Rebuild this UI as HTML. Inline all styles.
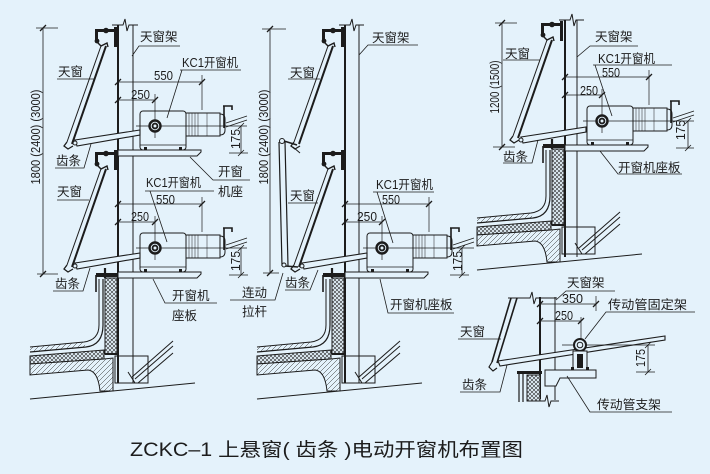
<!DOCTYPE html>
<html><head><meta charset="utf-8">
<style>
html,body{margin:0;padding:0;background:#e4f2fb;width:710px;height:474px;overflow:hidden}
svg{display:block}
text{font-family:"Liberation Sans","Noto Sans CJK SC",sans-serif;fill:#1c1c1c;font-size:12.5px;stroke:none}
.n{font-size:13px}
.t{font-size:19px}
</style></head><body>
<svg width="710" height="474" viewBox="0 0 710 474" xmlns="http://www.w3.org/2000/svg">
<defs>
 <pattern id="xh" width="4" height="4" patternUnits="userSpaceOnUse"><rect width="4" height="4" fill="#e4f2fb"/><path d="M0,0L4,4M4,0L0,4" stroke="#2a2a2a" stroke-width="0.6"/></pattern>
 <pattern id="dh" width="5" height="5" patternUnits="userSpaceOnUse"><rect width="5" height="5" fill="#e4f2fb"/><path d="M-1,6L6,-1" stroke="#2a2a2a" stroke-width="0.5"/></pattern>

 <g id="motor" stroke="#1c1c1c" fill="none" stroke-width="1">
  <path d="M0,0H83V2L79,6H0Z" fill="#e4f2fb"/>
  <rect x="22" y="-39" width="46" height="39" rx="3" fill="#e4f2fb"/>
  <line x1="22" y1="-5" x2="68" y2="-5" stroke-width="0.7"/>
  <rect x="26" y="-3" width="3" height="3" fill="#1c1c1c" stroke="none"/>
  <rect x="61" y="-3" width="3" height="3" fill="#1c1c1c" stroke="none"/>
  <rect x="68" y="-37" width="34" height="23" fill="#e4f2fb"/>
  <path d="M71,-37V-14M74,-37V-14M77,-37V-14M80,-37V-14M89,-37V-14" stroke-width="0.5"/>
  <path d="M102,-36Q107,-36 107,-31V-20Q107,-15 102,-15"/>
  <path d="M106,-44V-22M105,-44H114V-40" stroke-width="1.6"/>
  <path d="M108,-27L129,-34M108,-23L129,-30" stroke-width="0.8"/>
  <line x1="18" y1="-24" x2="129" y2="-24" stroke-width="0.7"/>
  <line x1="37" y1="-56" x2="37" y2="-12" stroke-width="0.7"/>
  <circle cx="37" cy="-24" r="6.2" fill="#1c1c1c"/>
  <circle cx="37" cy="-24" r="3.8" stroke="#e4f2fb" stroke-width="0.9"/>
  <circle cx="37" cy="-24" r="1.5" fill="#e4f2fb" stroke="none"/>
  <line x1="0" y1="-68" x2="84" y2="-68" stroke-width="0.7"/>
  <line x1="84" y1="-75" x2="84" y2="-40" stroke-width="0.7"/>
  <line x1="0" y1="-50" x2="37" y2="-50" stroke-width="0.7"/>
  <path d="M-3,-65L3,-71M81,-65L87,-71M-3,-47L3,-53M34,-47L40,-53" stroke-width="1.3"/>
 </g>

 <g id="sash" stroke="#1c1c1c" fill="none">
  <rect x="114" y="27" width="3" height="20" fill="#1c1c1c" stroke="none"/>
  <rect x="95" y="29" width="20" height="3" fill="#1c1c1c" stroke="none"/>
  <circle cx="106" cy="30.5" r="2.8" fill="#1c1c1c" stroke="none"/>
  <rect x="95" y="29" width="3" height="12" fill="#1c1c1c" stroke="none"/>
  <circle cx="97" cy="41" r="2.4" fill="#1c1c1c" stroke="none"/>
  <path d="M97,42L101,46L107,43L108,47" stroke-width="1.4"/>
  <line x1="106" y1="46" x2="72" y2="144" stroke-width="2"/>
  <line x1="101" y1="46" x2="67" y2="142" stroke-width="1"/>
  <path d="M67,142L64,146L68,149L73,146" stroke-width="1.3"/>
 </g>

 <g id="rack" stroke="#1c1c1c">
  <path d="M75,140L140,130V135L77,146Z" fill="#e4f2fb" stroke-width="1.1"/>
  <circle cx="75" cy="143" r="2" fill="#e4f2fb"/>
 </g>

 <g id="curb" stroke="#1c1c1c" fill="none">
  <path d="M30,347L84,342L86,347L30,352Z" fill="url(#dh)" stroke="none"/>
  <path d="M30,347L84,342Q99,340 99,325V279" stroke-width="1"/>
  <path d="M30,352L86,347Q103,345 103,325V279" stroke-width="1.2"/>
  <path d="M30,356L104,350V359L30,364Z" fill="url(#xh)"/>
  <path d="M30,364L104,359L113,358V391L100,391Q98,371 88,370L30,375Z" fill="url(#dh)"/>
  <rect x="105" y="278" width="12" height="76" fill="url(#xh)"/>
  <rect x="96" y="273" width="22" height="4" fill="#1c1c1c" stroke="none"/>
  <path d="M105,268V278" stroke-width="2.2"/>
  <path d="M96,275V292" stroke-width="1.6"/>
  <path d="M105,354H117" stroke-width="2"/>
  <rect x="115" y="356" width="33" height="27"/>
  <line x1="30" y1="399" x2="195" y2="383"/>
  <path d="M132,377L173,341M135,379L173,346M138,383L173,353" stroke-width="1"/>
  <path d="M128,372L135,383"/>
 </g>
</defs>

<rect width="710" height="474" fill="#e4f2fb"/>

<g stroke="#1c1c1c" fill="none" stroke-width="1">
 <use href="#curb"/>
 <use href="#curb" transform="translate(227,0)"/>
 <use href="#curb" transform="translate(447,-129)"/>

 <line x1="118" y1="25" x2="118" y2="383" stroke-width="2"/>
 <line x1="133" y1="25" x2="133" y2="383"/>
 <polyline points="112,25 123,25 125,19 127,31 129,25 138,25"/>

 <line x1="345" y1="25" x2="345" y2="383" stroke-width="2"/>
 <line x1="359" y1="25" x2="359" y2="383"/>
 <polyline points="339,25 350,25 352,19 354,31 356,25 364,25"/>

 <line x1="565" y1="20" x2="565" y2="257" stroke-width="2"/>
 <line x1="577" y1="20" x2="577" y2="257"/>
 <polyline points="559,20 570,20 572,14 574,26 576,20 584,20"/>

 <use href="#motor" transform="translate(118,150)"/>
 <use href="#motor" transform="translate(118,272)"/>
 <use href="#motor" transform="translate(345,272)"/>
 <use href="#motor" transform="translate(565,145)"/>

 <use href="#rack"/>
 <use href="#rack" transform="translate(0,123)"/>
 <use href="#rack" transform="translate(227,123)"/>
 <use href="#rack" transform="translate(446,-3)"/>

 <use href="#sash"/>
 <use href="#sash" transform="translate(0,123)"/>
 <use href="#sash" transform="translate(227,0)"/>
 <use href="#sash" transform="translate(227,123)"/>
 <use href="#sash" transform="translate(446,-6)"/>

 <path d="M279,142L282,266M285,142L288,266" stroke-width="1.2"/>
 <circle cx="282" cy="141" r="2.5" fill="#e4f2fb"/>
 <line x1="284" y1="141" x2="297" y2="145" stroke-width="1.5"/>
 <line x1="293" y1="147" x2="300" y2="153"/>
 <line x1="285" y1="266" x2="298" y2="267" stroke-width="1.5"/>
 <circle cx="284" cy="265" r="2" fill="#e4f2fb"/>

 <path d="M241,126V153M229,153H248M238,129L244,123M238,156L244,150" stroke-width="0.8"/>
 <path d="M241,248V275M229,275H248M238,251L244,245M238,278L244,272" stroke-width="0.8"/>
 <path d="M462,248V275M450,275H469M459,251L465,245M459,278L465,272" stroke-width="0.8"/>
 <path d="M688,121V148M676,148H694M685,124L691,118M685,151L691,145" stroke-width="0.8"/>

 <path d="M43,28V274M36,28H58M37,274H58" stroke-width="0.8"/>
 <path d="M40,31L46,25M40,277L46,271" stroke-width="1.3"/>
 <path d="M270,28V273M262,29H286M263,273H279" stroke-width="0.8"/>
 <path d="M267,32L273,26M267,276L273,270" stroke-width="1.3"/>
 <path d="M502,23V147M495,23H517M493,147H515" stroke-width="0.8"/>
 <path d="M499,26L505,20M499,150L505,144" stroke-width="1.3"/>

 <polyline points="508,298 530,298 532,292 534,304 536,298 557,298"/>
 <line x1="540" y1="297" x2="540" y2="399" stroke-width="2"/>
 <line x1="555" y1="297" x2="555" y2="400"/>
 <polyline points="536,401 545,401 547,395 549,407 551,401 559,401"/>
 <line x1="511" y1="298" x2="492" y2="362" stroke-width="1.6"/>
 <line x1="517" y1="298" x2="497" y2="363" stroke-width="1.6"/>
 <path d="M492,362L489,367L493,371L497,368" stroke-width="1.2"/>
 <path d="M498,361L665,336V340L500,366Z" fill="#e4f2fb" stroke-width="1.1"/>
 <path d="M562,345H655" stroke-width="0.7"/>
 <path d="M581,317V339" stroke-width="0.7"/>
 <circle cx="580" cy="345" r="6" fill="#e4f2fb" stroke-width="2"/>
 <circle cx="580" cy="345" r="2.8"/>
 <rect x="573" y="351" width="14" height="19" fill="#e4f2fb"/>
 <rect x="577" y="354" width="6" height="14" fill="#1c1c1c" stroke="none"/>
 <rect x="571" y="367" width="3" height="3" fill="#1c1c1c" stroke="none"/>
 <rect x="586" y="367" width="3" height="3" fill="#1c1c1c" stroke="none"/>
 <path d="M545,370H596V378H560L556,386H545Z" fill="#e4f2fb"/>
 <rect x="517" y="371" width="25" height="3" fill="#1c1c1c" stroke="none"/>
 <rect x="527" y="375" width="13" height="26" fill="url(#xh)"/>
 <path d="M519,373V402M523,374V402" stroke-width="1.2"/>
 <path d="M540,304H596M596,296V311M540,321H581" stroke-width="0.7"/>
 <path d="M537,307L543,301M593,307L599,301M537,324L543,318M578,324L584,318" stroke-width="1.3"/>
 <path d="M648,345V372M636,372H655M645,348L651,342M645,375L651,369" stroke-width="0.8"/>

 <g stroke-width="0.8">
  <path d="M132,56L139,46H180M180,70H241M182,70L167,118M57,79H94M55,168H84L91,144M190,157L213,180H250M57,200H89M145,191H214M150,191L167,242M53,291H83L90,268M153,279L165,303H217"/>
  <path d="M359,55L368,45H418M288,79H320M288,203H318M373,192H434M377,192L393,243M285,290H310L318,270M230,300H275L283,273M380,279L388,313H454"/>
  <path d="M577,57L590,46H638M503,60H540M593,65H672M595,65L612,116M503,163H532L538,140M600,151L618,174H682"/>
  <path d="M556,300L566,291H615M585,339L606,312H695M458,339H501M460,392H500L507,365M567,376L590,412H672"/>
 </g>
</g>

<text x="140" y="41">天窗架</text>
<text x="182" y="67" textLength="56" lengthAdjust="spacingAndGlyphs">KC1开窗机</text>
<text class="n" x="154" y="80" textLength="19" lengthAdjust="spacingAndGlyphs">550</text>
<text class="n" x="131" y="99" textLength="19" lengthAdjust="spacingAndGlyphs">250</text>
<text x="58" y="76">天窗</text>
<text x="56" y="165">齿条</text>
<text x="218" y="176">开窗</text>
<text x="218" y="196">机座</text>
<text class="n" transform="translate(235,139) rotate(-90)" x="0" y="5" text-anchor="middle" textLength="20" lengthAdjust="spacingAndGlyphs">175</text>
<text x="57" y="196">天窗</text>
<text x="146" y="187" textLength="55" lengthAdjust="spacingAndGlyphs">KC1开窗机</text>
<text class="n" x="156" y="204" textLength="19" lengthAdjust="spacingAndGlyphs">550</text>
<text class="n" x="131" y="221" textLength="18" lengthAdjust="spacingAndGlyphs">250</text>
<text class="n" transform="translate(235,261) rotate(-90)" x="0" y="5" text-anchor="middle" textLength="20" lengthAdjust="spacingAndGlyphs">175</text>
<text x="55" y="288">齿条</text>
<text x="172" y="300">开窗机</text>
<text x="172" y="320">座板</text>
<text class="n" transform="translate(35,137) rotate(-90)" x="0" y="5" text-anchor="middle" textLength="95" lengthAdjust="spacingAndGlyphs">1800 (2400) (3000)</text>

<text class="n" transform="translate(263,137) rotate(-90)" x="0" y="5" text-anchor="middle" textLength="95" lengthAdjust="spacingAndGlyphs">1800 (2400) (3000)</text>
<text x="372" y="42">天窗架</text>
<text x="290" y="77">天窗</text>
<text x="290" y="200">天窗</text>
<text x="376" y="189" textLength="57" lengthAdjust="spacingAndGlyphs">KC1开窗机</text>
<text class="n" x="382" y="204" textLength="18" lengthAdjust="spacingAndGlyphs">550</text>
<text class="n" x="357" y="221" textLength="20" lengthAdjust="spacingAndGlyphs">250</text>
<text class="n" transform="translate(457,261) rotate(-90)" x="0" y="5" text-anchor="middle" textLength="20" lengthAdjust="spacingAndGlyphs">175</text>
<text x="285" y="287">齿条</text>
<text x="242" y="297">连动</text>
<text x="242" y="316">拉杆</text>
<text x="390" y="309">开窗机座板</text>

<text class="n" transform="translate(494,87) rotate(-90)" x="0" y="5" text-anchor="middle" textLength="53" lengthAdjust="spacingAndGlyphs">1200 (1500)</text>
<text x="505" y="58">天窗</text>
<text x="595" y="41">天窗架</text>
<text x="598" y="63" textLength="57" lengthAdjust="spacingAndGlyphs">KC1开窗机</text>
<text class="n" x="602" y="77" textLength="18" lengthAdjust="spacingAndGlyphs">550</text>
<text class="n" x="580" y="95" textLength="18" lengthAdjust="spacingAndGlyphs">250</text>
<text class="n" transform="translate(680,130) rotate(-90)" x="0" y="5" text-anchor="middle" textLength="20" lengthAdjust="spacingAndGlyphs">175</text>
<text x="618" y="172">开窗机座板</text>
<text x="503" y="161">齿条</text>

<text x="567" y="287">天窗架</text>
<text class="n" x="562" y="303" textLength="21" lengthAdjust="spacingAndGlyphs">350</text>
<text class="n" x="555" y="320" textLength="18" lengthAdjust="spacingAndGlyphs">250</text>
<text x="608" y="309" textLength="79" lengthAdjust="spacingAndGlyphs">传动管固定架</text>
<text x="460" y="336">天窗</text>
<text class="n" transform="translate(640,358) rotate(-90)" x="0" y="5" text-anchor="middle" textLength="18" lengthAdjust="spacingAndGlyphs">175</text>
<text x="462" y="389">齿条</text>
<text x="597" y="409" textLength="64" lengthAdjust="spacingAndGlyphs">传动管支架</text>

<text class="t" x="130" y="456" textLength="393" lengthAdjust="spacingAndGlyphs">ZCKC–1 上悬窗( 齿条 )电动开窗机布置图</text>
</svg>
</body></html>
